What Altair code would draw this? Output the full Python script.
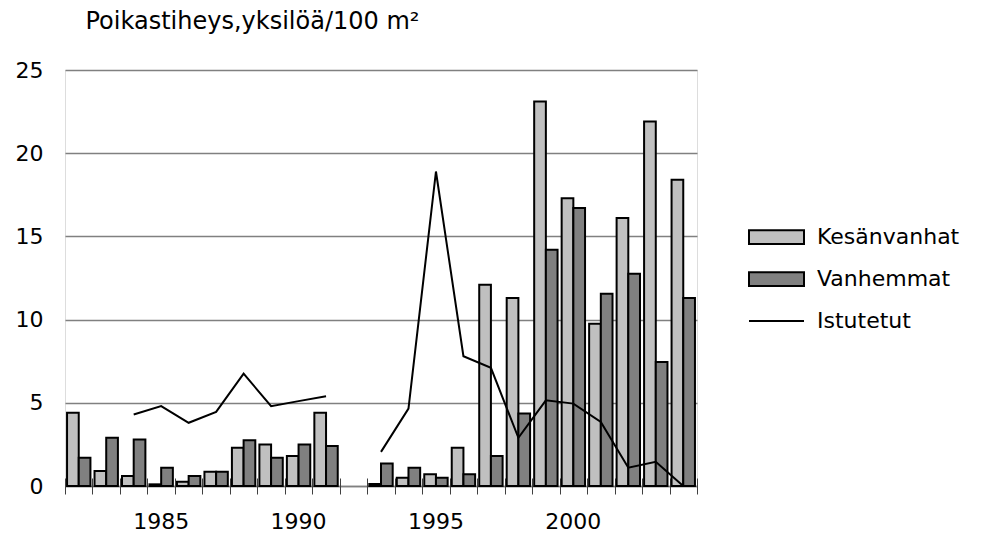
import altair as alt
import pandas as pd

years = list(range(1982, 2005))
kesanvanhat = [4.4, 0.9, 0.6, 0.1, 0.25, 0.85, 2.3, 2.5, 1.8, 4.4, None,
               0.12, 0.5, 0.7, 2.3, 12.1, 11.3, 23.1, 17.3, 9.75, 16.1, 21.9, 18.4]
vanhemmat = [1.7, 2.9, 2.8, 1.1, 0.6, 0.85, 2.75, 1.7, 2.5, 2.4, None,
             1.35, 1.1, 0.5, 0.7, 1.8, 4.35, 14.2, 16.7, 11.55, 12.75, 7.45, 11.3]
istutetut = [None, None, 4.3, 4.8, 3.8, 4.45, 6.75, 4.8, 5.1, 5.4, None,
             2.05, 4.65, 18.9, 7.8, 7.1, 2.9, 5.15, 4.95, 3.85, 1.1, 1.45, 0.0]

bar_series = ["Kesänvanhat", "Vanhemmat"]
bar_colors = ["#c0c0c0", "#808080"]
line_name = "Istutetut"
title_text = "Poikastiheys,yksilöä/100 m²"
FONT = "DejaVu Sans"

rows = []
for name, vals in zip(bar_series, [kesanvanhat, vanhemmat]):
    for y, v in zip(years, vals):
        if v is not None:
            rows.append({"year": y, "series": name, "value": v})
bar_df = pd.DataFrame(rows)

lrows = []
seg = 0
prev_none = True
for y, v in zip(years, istutetut):
    if v is None:
        prev_none = True
        continue
    if prev_none:
        seg += 1
        prev_none = False
    lrows.append({"year": y, "value": v, "segment": seg, "name": line_name})
line_df = pd.DataFrame(lrows)

xscale = alt.Scale(domain=years, paddingInner=0, paddingOuter=0)
yscale = alt.Scale(domain=[0, 25], nice=False)

bars = alt.Chart(bar_df).mark_bar(stroke="black", strokeWidth=2).encode(
    x=alt.X("year:O", scale=xscale,
            axis=alt.Axis(title=None, labelExpr="datum.value % 5 == 0 ? datum.label : ''",
                          labelAngle=0, ticks=False, tickSize=0, labelPadding=25,
                          labelFont=FONT, labelFontSize=22, labelColor="black",
                          domain=True, domainColor="#808080", domainWidth=1.5,
                          grid=False, orient="bottom")),
    xOffset=alt.XOffset("series:N", scale=alt.Scale(domain=bar_series, paddingOuter=0.175, paddingInner=0)),
    y=alt.Y("value:Q", scale=yscale,
            axis=alt.Axis(values=[0, 5, 10, 15, 20, 25], title=title_text, titleAngle=0,
                          titleAlign="left", titleBaseline="alphabetic", titleX=20, titleY=-42,
                          titleFont=FONT, titleFontSize=24, titleFontWeight="normal", titleColor="black",
                          labelFont=FONT, labelFontSize=22, labelColor="black", labelPadding=22,
                          ticks=False, tickSize=0, domain=False,
                          grid=True, gridColor="#808080", gridWidth=1.5)),
    fill=alt.Fill("series:N", scale=alt.Scale(domain=bar_series, range=bar_colors),
                  legend=alt.Legend(title=None, orient="none", legendX=683, legendY=156,
                                    symbolType="M-1,-0.25H1V0.25H-1Z", symbolSize=3025,
                                    symbolStrokeColor="black", symbolStrokeWidth=2,
                                    symbolOpacity=1,
                                    labelFont=FONT, labelFontSize=22, labelColor="black",
                                    labelOffset=12, rowPadding=20, clipHeight=22, padding=0)),
)

line = alt.Chart(line_df).mark_line(strokeWidth=2).encode(
    x=alt.X("year:O", scale=xscale,
            axis=alt.Axis(title=None, labels=False, domain=False, ticks=True, tickBand="extent",
                          tickSize=16, offset=-8, tickColor="#404040", tickWidth=1,
                          grid=False, orient="bottom")),
    y=alt.Y("value:Q", scale=yscale),
    detail="segment:N",
    stroke=alt.Stroke("name:N", scale=alt.Scale(domain=[line_name], range=["black"]),
                      legend=alt.Legend(title=None, orient="none", legendX=683, legendY=240,
                                        symbolType="stroke", symbolSize=3025, symbolStrokeWidth=2,
                                        labelFont=FONT, labelFontSize=22, labelColor="black",
                                        labelOffset=12, clipHeight=22, padding=0)),
)

chart = alt.layer(bars, line).resolve_axis(x="independent").properties(
    width=632, height=416,
    autosize="none",
    padding={"left": 57, "top": 62, "right": 270, "bottom": 54},
).configure_view(stroke=None).configure(background="white")

chart.save("out.html", embed_options={"renderer": "svg", "actions": False})
